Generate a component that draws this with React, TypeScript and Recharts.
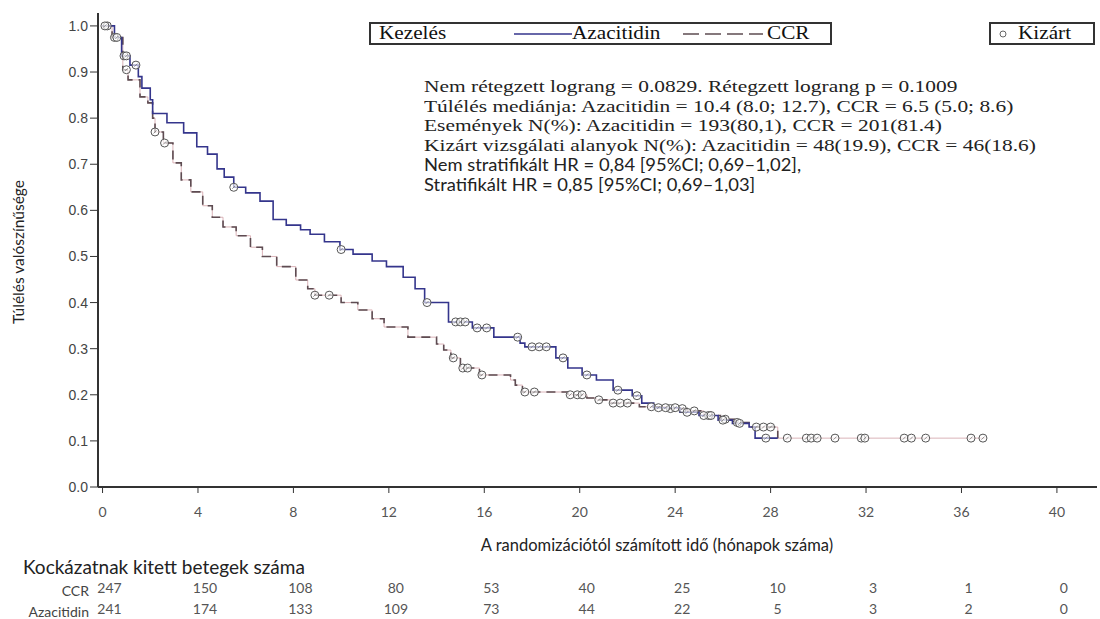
import React from "react";
import { ComposedChart, Line, Scatter, XAxis, YAxis } from "recharts";

// Kaplan–Meier steps: [months, survival after the step]
const azaSteps: [number, number][] = [
  [0, 1.0], [0.5, 0.975], [0.8, 0.935], [1.15, 0.915], [1.5, 0.89], [1.65, 0.865],
  [2.0, 0.84], [2.1, 0.81], [2.7, 0.79], [3.4, 0.768], [3.95, 0.738], [4.4, 0.722],
  [4.8, 0.69], [5.1, 0.672], [5.5, 0.65], [6.0, 0.638], [6.6, 0.62], [7.15, 0.58],
  [7.7, 0.568], [8.3, 0.558], [8.7, 0.548], [9.3, 0.532], [9.95, 0.515], [10.5, 0.505],
  [11.3, 0.49], [11.9, 0.478], [12.6, 0.455], [13.1, 0.43], [13.5, 0.40], [14.5, 0.358],
  [15.5, 0.345], [16.4, 0.325], [17.5, 0.312], [17.7, 0.304], [19.0, 0.28], [19.5, 0.258],
  [20.1, 0.243], [20.7, 0.232], [21.4, 0.21], [22.2, 0.198], [22.6, 0.182], [23.1, 0.172],
  [24.2, 0.162], [25.0, 0.155], [25.8, 0.145], [26.4, 0.138], [27.1, 0.13], [27.35, 0.106],
  [28.3, 0.106],
];
const azaCensored: [number, number][] = [
  [0.1, 1.0], [0.6, 0.975], [0.9, 0.935], [1.0, 0.935], [1.4, 0.915], [5.5, 0.65],
  [10.0, 0.515], [13.6, 0.40], [14.8, 0.358], [15.0, 0.358], [15.2, 0.358], [15.7, 0.345],
  [16.1, 0.345], [17.4, 0.325], [18.0, 0.304], [18.3, 0.304], [18.6, 0.304], [19.3, 0.28],
  [20.3, 0.243], [21.6, 0.21], [22.4, 0.198], [23.3, 0.172], [23.6, 0.172], [24.0, 0.172],
  [24.5, 0.162], [25.2, 0.155], [25.5, 0.155], [26.0, 0.145], [26.7, 0.138], [27.8, 0.106],
];
const ccrSteps: [number, number][] = [
  [0, 1.0], [0.4, 0.975], [0.85, 0.905], [1.07, 0.883], [1.57, 0.846], [1.9, 0.833],
  [2.1, 0.80], [2.2, 0.77], [2.55, 0.746], [2.95, 0.703], [3.3, 0.666], [3.7, 0.64],
  [4.2, 0.61], [4.6, 0.585], [5.05, 0.564], [5.6, 0.545], [6.2, 0.52], [6.7, 0.50],
  [7.3, 0.478], [8.1, 0.449], [8.6, 0.43], [8.9, 0.416], [10.0, 0.40], [10.7, 0.384],
  [11.3, 0.365], [11.8, 0.347], [12.8, 0.325], [14.0, 0.31], [14.3, 0.297], [14.6, 0.28],
  [15.0, 0.258], [15.8, 0.243], [17.1, 0.232], [17.3, 0.221], [17.6, 0.206], [19.5, 0.20],
  [20.3, 0.193], [20.7, 0.189], [21.3, 0.182], [22.5, 0.174], [23.7, 0.17], [24.5, 0.165],
  [25.2, 0.155], [25.9, 0.147], [26.5, 0.14], [27.1, 0.13], [28.3, 0.106], [37.0, 0.106],
];
const ccrCensored: [number, number][] = [
  [0.2, 1.0], [0.5, 0.975], [1.0, 0.905], [2.2, 0.77], [2.6, 0.746], [8.9, 0.416],
  [9.5, 0.416], [14.7, 0.28], [15.1, 0.258], [15.3, 0.258], [15.9, 0.243], [17.7, 0.206],
  [18.1, 0.206], [19.6, 0.20], [19.9, 0.20], [20.1, 0.20], [20.8, 0.189], [21.4, 0.182],
  [21.7, 0.182], [22.0, 0.182], [23.0, 0.174], [23.8, 0.17], [24.3, 0.17], [24.8, 0.165],
  [25.4, 0.155], [26.1, 0.147], [26.6, 0.14], [27.4, 0.13], [27.7, 0.13], [28.0, 0.13],
  [28.7, 0.106], [29.5, 0.106], [29.7, 0.106], [29.95, 0.106], [30.7, 0.106], [31.8, 0.106],
  [31.95, 0.106], [33.6, 0.106], [33.9, 0.106], [34.5, 0.106], [36.4, 0.106], [36.9, 0.106],
];

const xTicks = [0, 4, 8, 12, 16, 20, 24, 28, 32, 36, 40];
const yTicks = [0, 0.1, 0.2, 0.3, 0.4, 0.5, 0.6, 0.7, 0.8, 0.9, 1.0];
const ccrAtRisk = [247, 150, 108, 80, 53, 40, 25, 10, 3, 1, 0];
const azaAtRisk = [241, 174, 133, 109, 73, 44, 22, 5, 3, 2, 0];

const statLines = [
  "Nem rétegzett lograng = 0.0829. Rétegzett lograng p = 0.1009",
  "Túlélés mediánja: Azacitidin = 10.4 (8.0; 12.7), CCR = 6.5 (5.0; 8.6)",
  "Események N(%): Azacitidin = 193(80,1), CCR = 201(81.4)",
  "Kizárt vizsgálati alanyok N(%): Azacitidin = 48(19.9), CCR = 46(18.6)",
];
const hrLines = [
  "Nem stratifikált HR = 0,84 [95%CI; 0,69–1,02],",
  "Stratifikált HR = 0,85 [95%CI; 0,69–1,03]",
];

const toRows = (arr: [number, number][]) => arr.map(([t, s]) => ({ t, s }));
const ccrDashed = ccrSteps.filter(([t]) => t <= 28.3);

const AZA = "#34358c";
const CCR = "#5e4c52";
const CCR_LIGHT = "#d6aab0";
const AXIS = "#333";
const SANS = "Lato, 'Open Sans', sans-serif";
const SERIF = "'Liberation Serif', 'DejaVu Serif', serif";
const AXIS_Y = 487;

const Censor = (p: any) => {
  const { cx, cy } = p;
  if (cx == null || cy == null) return null;
  return (
    <g>
      <circle cx={cx} cy={cy} r={4} fill="#fff" fillOpacity={0.6} stroke="#555" strokeWidth={1} />
      <line x1={cx - 1.5} y1={cy + 1.5} x2={cx + 1.5} y2={cy - 1.5} stroke="#777" strokeWidth={0.8} />
    </g>
  );
};

const XTick = (p: any) => {
  const { x, payload, index } = p;
  return (
    <g fontFamily={SANS} fontSize={14} fill="#555">
      <text x={x} y={AXIS_Y + 30} textAnchor="middle">{payload.value}</text>
      <text x={x + 7} y={593} textAnchor="middle">{ccrAtRisk[index]}</text>
      <text x={x + 7} y={614} textAnchor="middle">{azaAtRisk[index]}</text>
    </g>
  );
};

const serifText = (size: number, sx: number): React.CSSProperties => ({
  fontFamily: SERIF, fontSize: size, display: "inline-block", transform: `scaleX(${sx})`,
  transformOrigin: "left center", whiteSpace: "nowrap",
});

export default function App() {
  return (
    <div style={{ position: "relative", width: 1100, height: 619, background: "#fff", overflow: "hidden" }}>
      <style>{"body{margin:0}"}</style>
      <ComposedChart width={1100} height={619} margin={{ top: 13, right: 3, left: 0, bottom: 0 }}>
        <XAxis xAxisId="top" orientation="top" type="number" dataKey="t" domain={[-0.19, 41.68]}
          allowDataOverflow height={0} tick={false} tickLine={false} axisLine={{ stroke: AXIS, strokeWidth: 2 }} />
        <XAxis type="number" dataKey="t" domain={[-0.19, 41.68]} allowDataOverflow ticks={xTicks}
          interval={0} height={132} tickSize={6} axisLine={{ stroke: AXIS, strokeWidth: 2 }}
          tickLine={{ stroke: AXIS }} tick={<XTick />} />
        <YAxis type="number" dataKey="s" domain={[0, 1.028]} allowDataOverflow ticks={yTicks} width={98}
          interval={0} tickSize={8} tickLine={{ stroke: AXIS }} axisLine={{ stroke: AXIS, strokeWidth: 2 }}
          tick={{ fill: "#444", fontSize: 14, fontFamily: "'Liberation Sans', Arial, sans-serif" }}
          tickFormatter={(v: number) => v.toFixed(1)} />
        <Line data={toRows(ccrSteps)} dataKey="s" type="stepAfter" stroke={CCR_LIGHT} strokeWidth={0.9}
          dot={false} activeDot={false} isAnimationActive={false} />
        <Line data={toRows(ccrDashed)} dataKey="s" type="stepAfter" stroke={CCR} strokeWidth={1.6}
          strokeDasharray="9 6" dot={false} activeDot={false} isAnimationActive={false} />
        <Line data={toRows(azaSteps)} dataKey="s" type="stepAfter" stroke={AZA} strokeWidth={1.6}
          dot={false} activeDot={false} isAnimationActive={false} />
        <Scatter data={toRows(ccrCensored)} dataKey="s" shape={Censor} isAnimationActive={false} />
        <Scatter data={toRows(azaCensored)} dataKey="s" shape={Censor} isAnimationActive={false} />
      </ComposedChart>

      {/* legend boxes */}
      <div style={{ position: "absolute", left: 369, top: 22, width: 459, height: 19, border: `2px solid ${AXIS}`,
        lineHeight: "19px", color: "#111" }}>
        <span style={{ ...serifText(18, 1.18), position: "absolute", left: 8 }}>Kezelés</span>
        <svg style={{ position: "absolute", left: 143, top: 0 }} width={58} height={19}>
          <line x1={0} y1={10} x2={58} y2={10} stroke={AZA} strokeWidth={1.6} />
        </svg>
        <span style={{ ...serifText(18, 1.18), position: "absolute", left: 201 }}>Azacitidin</span>
        <svg style={{ position: "absolute", left: 312, top: 0 }} width={80} height={19}>
          <line x1={0} y1={10} x2={80} y2={10} stroke={CCR} strokeWidth={1.6} strokeDasharray="16 6" />
        </svg>
        <span style={{ ...serifText(18, 1.18), position: "absolute", left: 396 }}>CCR</span>
      </div>
      <div style={{ position: "absolute", left: 989, top: 22, width: 102, height: 19, border: `2px solid ${AXIS}`,
        lineHeight: "19px", color: "#111" }}>
        <svg style={{ position: "absolute", left: 6, top: 0 }} width={12} height={19}>
          <circle cx={6} cy={10} r={3} fill="none" stroke="#666" strokeWidth={1} />
        </svg>
        <span style={{ ...serifText(18, 1.18), position: "absolute", left: 27 }}>Kizárt</span>
      </div>

      {/* statistics */}
      <div style={{ position: "absolute", left: 424, top: 77, lineHeight: "19.6px", color: "#222" }}>
        {statLines.map((l) => <div key={l}><span style={serifText(17, 1.26)}>{l}</span></div>)}
        {hrLines.map((l) => <div key={l} style={{ fontFamily: SANS, fontSize: 17.5, whiteSpace: "nowrap",
          display: "block", transform: "scaleX(1.05)", transformOrigin: "left center" }}>{l}</div>)}
      </div>

      {/* axis titles */}
      <div style={{ position: "absolute", left: 18, top: 252, transform: "translate(-50%, -50%) rotate(-90deg)",
        fontFamily: SANS, fontSize: 15.5, color: "#222", whiteSpace: "nowrap" }}>Túlélés valószínűsége</div>
      <div style={{ position: "absolute", left: 657, top: 545, transform: "translate(-50%, -50%)",
        fontFamily: SANS, fontSize: 16.5, color: "#222", whiteSpace: "nowrap" }}>A randomizációtól számított idő (hónapok száma)</div>

      {/* number at risk */}
      <div style={{ position: "absolute", left: 23, top: 555, fontFamily: SANS, fontSize: 19, color: "#222", whiteSpace: "nowrap" }}>
        Kockázatnak kitett betegek száma</div>
      <div style={{ position: "absolute", right: 1100 - 89, top: 580, fontFamily: SANS, fontSize: 14, color: "#444", textAlign: "right", lineHeight: "21px" }}>
        <div>CCR</div>
        <div>Azacitidin</div>
      </div>
    </div>
  );
}
